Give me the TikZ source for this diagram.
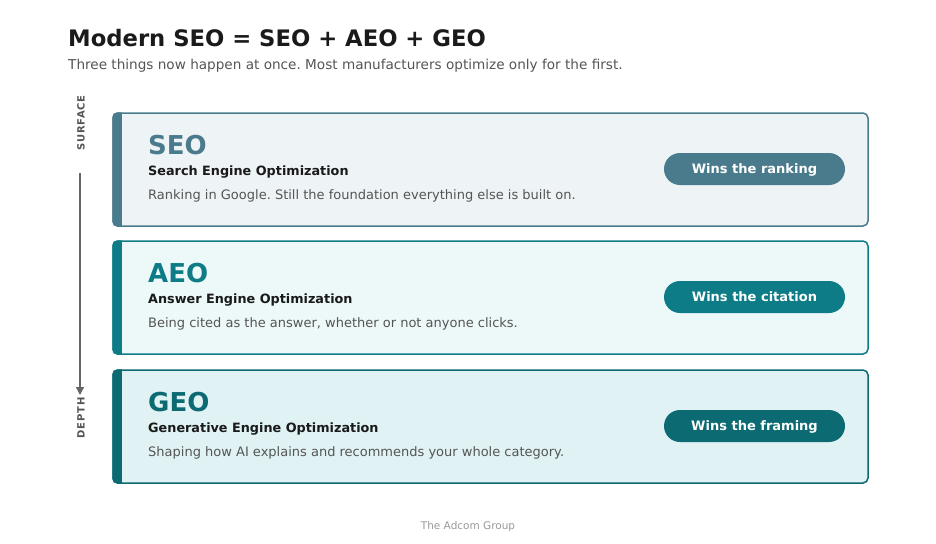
\documentclass[tikz,border=0pt]{standalone}
\usepackage{fontspec}
\setmainfont{DejaVu Sans}
\usetikzlibrary{positioning, arrows.meta}
\frenchspacing
\definecolor{SeoSlate}{HTML}{4A7B8C}
\definecolor{SeoFill}{HTML}{EEF3F6}
\definecolor{AeoTeal}{HTML}{0E7C86}
\definecolor{AeoFill}{HTML}{EDF8F9}
\definecolor{GeoTeal}{HTML}{0B6A72}
\definecolor{GeoFill}{HTML}{E0F2F4}
\definecolor{InkDark}{HTML}{1A1A1A}
\definecolor{InkGrey}{HTML}{555555}
\tikzset{
  tier/.style 2 args={draw=#1, fill=#2, line width=1.5pt, rounded corners=5pt,
    minimum width=755pt, minimum height=113pt, inner sep=0pt},
  pill/.style={fill=#1, rounded corners=16pt, minimum width=181pt, minimum height=32pt,
    text height=9.5pt, text depth=0pt, text=white, font=\fontsize{13}{15}\selectfont\bfseries},
  acro/.style={anchor=base west, inner sep=0pt, text=#1, font=\fontsize{26}{30}\selectfont\bfseries},
  fullname/.style={anchor=base west, inner sep=0pt, text=InkDark, font=\fontsize{12.8}{15}\selectfont\bfseries},
  blurb/.style={anchor=base west, inner sep=0pt, text=InkGrey, font=\fontsize{13}{15}\selectfont},
  axislabel/.style={rotate=90, inner sep=0pt, text=InkGrey,
    font=\fontsize{10}{12}\selectfont\bfseries\addfontfeature{LetterSpace=8}}
}
% accent bar on the left of a tier
\newcommand{\accentbar}[2]{%
  \begin{scope}
    \clip[rounded corners=5pt] (#1.north west) rectangle (#1.south east);
    \fill[#2] ([xshift=-1pt,yshift=1pt]#1.north west) rectangle ([xshift=10pt,yshift=-1pt]#1.south west);
  \end{scope}}
\begin{document}
\begin{tikzpicture}[x=1pt, y=-1pt]
  \useasboundingbox[fill=white] (0,0) rectangle (936,543);

  % Heading
  \node[anchor=base west, inner sep=0pt, text=InkDark, font=\fontsize{22.7}{27}\selectfont\bfseries] (title) at (68,47) {Modern SEO = SEO + AEO + GEO};
  \node[anchor=base west, inner sep=0pt, text=InkGrey, font=\fontsize{13.6}{16}\selectfont] (subtitle) at (68,70) {Three things now happen at once. Most manufacturers optimize only for the first.};

  % Tiers
  \node[tier={SeoSlate}{SeoFill}] (seo) at (490.5,169.5) {};
  \accentbar{seo}{SeoSlate}
  \node[tier={AeoTeal}{AeoFill}] (aeo) at (490.5,297.5) {};
  \accentbar{aeo}{AeoTeal}
  \node[tier={GeoTeal}{GeoFill}] (geo) at (490.5,426.5) {};
  \accentbar{geo}{GeoTeal}

  % Tier texts
  \node[acro=SeoSlate] (seoacro) at (148,154) {SEO};
  \node[fullname] (seoname) at (148,175) {Search Engine Optimization};
  \node[blurb] (seoblurb) at (148,199) {Ranking in Google. Still the foundation everything else is built on.};
  \node[acro=AeoTeal] (aeoacro) at (148,282) {AEO};
  \node[fullname] (aeoname) at (148,303) {Answer Engine Optimization};
  \node[blurb] (aeoblurb) at (148,327) {Being cited as the answer, whether or not anyone clicks.};
  \node[acro=GeoTeal] (geoacro) at (148,411) {GEO};
  \node[fullname] (geoname) at (148,432) {Generative Engine Optimization};
  \node[blurb] (geoblurb) at (148,456) {Shaping how AI explains and recommends your whole category.};

  % Outcomes
  \node[pill=SeoSlate] (seowin) at (754.5,169) {Wins the ranking};
  \node[pill=AeoTeal] (aeowin) at (754.5,297) {Wins the citation};
  \node[pill=GeoTeal] (geowin) at (754.5,426) {Wins the framing};

  % Depth axis
  \node[axislabel] (surface) at (81,123) {SURFACE};
  \node[axislabel] (depth) at (81,418) {DEPTH};
  \coordinate (axistop) at (80,173);
  \coordinate (axisend) at (80,395);
  \draw[InkGrey!90, line width=1.3pt, -{Triangle[length=8pt, width=8pt]}] (axistop) -- (axisend);

  % Footer
  \node[text=black!40, font=\fontsize{10.5}{12}\selectfont] (footer) at (468,527) {The Adcom Group};
\end{tikzpicture}
\end{document}
